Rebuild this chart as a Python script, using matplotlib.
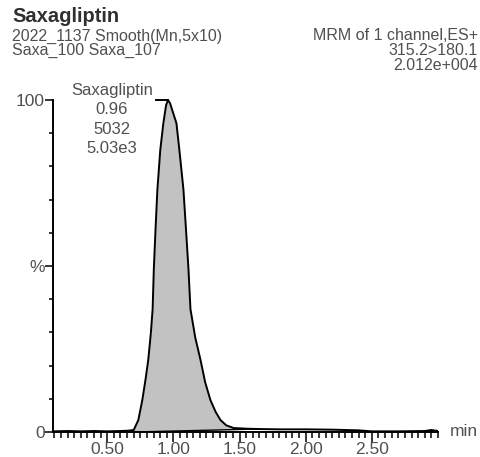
import numpy as np
import matplotlib.pyplot as plt
from matplotlib.ticker import MultipleLocator, FixedLocator

plt.rcParams['font.family'] = ['Liberation Sans', 'DejaVu Sans']

# chromatogram trace (time in min, relative intensity %)
time = [0.09, 0.20, 0.30, 0.40, 0.50, 0.60, 0.66, 0.70, 0.735, 0.765, 0.79,
        0.81, 0.83, 0.843, 0.852, 0.866, 0.879, 0.901, 0.924, 0.945, 0.96,
        0.975, 0.995, 1.023, 1.045, 1.076, 1.10, 1.114, 1.129, 1.165, 1.205,
        1.24, 1.28, 1.32, 1.356, 1.40, 1.455, 1.55, 1.64, 1.80, 2.00, 2.20,
        2.40, 2.50, 2.70, 2.90, 2.95, 3.00]
intensity = [0.2, 0.3, 0.2, 0.3, 0.2, 0.3, 0.4, 0.6, 3.6, 9.6, 16.0,
             21.7, 30.0, 37.0, 49.0, 62.0, 73.0, 85.0, 93.0, 98.5, 100.0,
             99.0, 96.5, 93.0, 85.0, 73.0, 58.0, 49.0, 37.0, 28.5, 21.7,
             15.0, 9.6, 6.0, 3.6, 2.0, 1.2, 1.0, 0.9, 0.8, 0.8, 0.7,
             0.5, 0.2, 0.2, 0.3, 0.6, 0.3]

# integration baseline (start, end)
base_t = [0.70, 1.64]
base_y = [0.0, 0.9]

apex_t = 0.96
peak_name = "Saxagliptin"
peak_area = "5032"
peak_height = "5.03e3"

title = "Saxagliptin"
left_lines = ["2022_1137 Smooth(Mn,5x10)", "Saxa_100 Saxa_107"]
right_lines = ["MRM of 1 channel,ES+", "315.2>180.1", "2.012e+004"]

W, H = 481, 457
fig = plt.figure(figsize=(W / 100, H / 100), dpi=100)
ax = fig.add_axes([53 / W, 25 / H, (438 - 53) / W, (432 - 100) / H])

t = np.array(time)
y = np.array(intensity)
mask = (t >= base_t[0]) & (t <= base_t[1])
bl = np.interp(t[mask], base_t, base_y)
ax.fill_between(t[mask], bl, y[mask], color='#c2c2c2', lw=0)
ax.plot(t, y, color='black', lw=1.4)
ax.plot(base_t, base_y, color='black', lw=1.0)
# peak top marker
ax.plot([apex_t - 0.09, apex_t], [100, 100], color='black', lw=1.4, clip_on=False)

ax.set_xlim(0.09, 3.0)
ax.set_ylim(0, 100)
for s in ['top', 'right']:
    ax.spines[s].set_visible(False)
for s in ['left', 'bottom']:
    ax.spines[s].set_linewidth(1.4)

ax.xaxis.set_major_locator(FixedLocator([0.5, 1.0, 1.5, 2.0, 2.5]))
ax.xaxis.set_minor_locator(MultipleLocator(0.05))
ax.set_xticklabels(['0.50', '1.00', '1.50', '2.00', '2.50'])
ax.tick_params(axis='x', which='major', length=7, width=1.1, labelsize=12.5,
               labelcolor='#505050', pad=0)
ax.tick_params(axis='x', which='minor', length=4, width=1.1)

ax.yaxis.set_major_locator(FixedLocator([0, 50, 100]))
ax.yaxis.set_minor_locator(MultipleLocator(10))
ax.set_yticklabels(['0', '%', '100'])
ax.tick_params(axis='y', which='major', length=6, width=1.1, labelsize=12.5,
               labelcolor='#505050', pad=0)
ax.tick_params(axis='y', which='minor', length=3, width=1.1)

fig.text(450 / W, 1 - 432 / H, 'min', fontsize=12.5, color='#505050',
         ha='left', va='center')

fig.text(12 / W, 1 - 17 / H, title, fontsize=14.5, fontweight='bold',
         color='#303030', ha='left', va='center')
for i, s in enumerate(left_lines):
    fig.text(12 / W, 1 - (36 + 14.5 * i) / H, s, fontsize=11.5, color='#505050',
             ha='left', va='center')
for i, s in enumerate(right_lines):
    fig.text(478 / W, 1 - (36 + 14.5 * i) / H, s, fontsize=11.5, color='#505050',
             ha='right', va='center')

peak_lines = [peak_name, f"{apex_t:.2f}", peak_area, peak_height]
for i, s in enumerate(peak_lines):
    fig.text(112 / W, 1 - (90 + 19.5 * i) / H, s, fontsize=12, color='#505050',
             ha='center', va='center')

fig.savefig('out.png', dpi=100)
